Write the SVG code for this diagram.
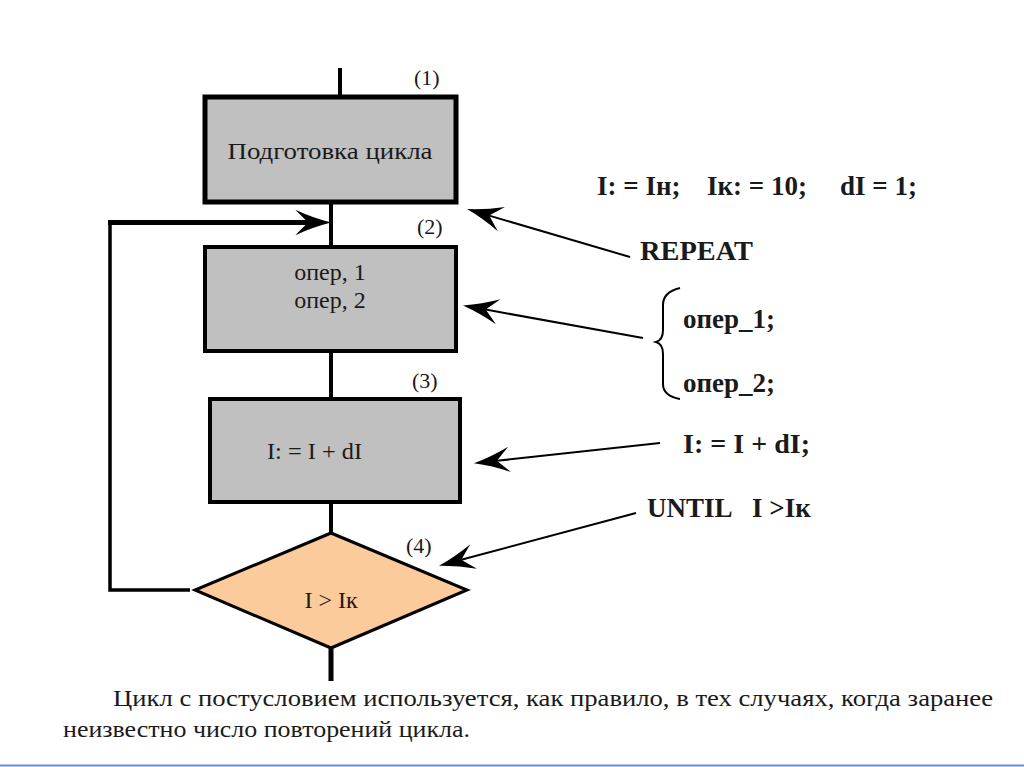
<svg xmlns="http://www.w3.org/2000/svg" width="1024" height="767" viewBox="0 0 1024 767">
<style>
text{font-family:"Liberation Serif","DejaVu Serif","Times New Roman",serif;fill:#1a1a1a}
.box{fill:#c0c0c0;stroke:#000}
.lbl{font-size:24px}
.num{font-size:22px}
.code{font-size:27px;font-weight:bold}
.ln{stroke:#000;fill:none}
.ann{stroke:#000;stroke-width:2;fill:none;marker-end:url(#ah)}
.note{font-size:24px}
</style>
<defs>
<marker id="ah" markerUnits="userSpaceOnUse" markerWidth="40" markerHeight="30" refX="0" refY="0" viewBox="-12 -13 34 26" orient="auto" overflow="visible">
<path d="M20,0 Q4,-4 -11,-11 L0,0 L-11,11 Q4,4 20,0 Z" fill="#000"/>
</marker>
</defs>
<rect width="1024" height="767" fill="#fff"/>
<g id="connectors">
<line class="ln" x1="340" y1="68" x2="340" y2="96" stroke-width="4"/>
<line class="ln" x1="331" y1="204" x2="331" y2="246" stroke-width="4"/>
<line class="ln" x1="331" y1="352" x2="331" y2="398" stroke-width="4"/>
<line class="ln" x1="331" y1="503" x2="331" y2="533" stroke-width="4"/>
<line class="ln" x1="331" y1="648" x2="331" y2="681" stroke-width="5"/>
<path class="ln" d="M190,590 H110 V224" stroke-width="3.5"/>
<line class="ln" x1="108" y1="222.5" x2="308" y2="222.5" stroke-width="5" marker-end="url(#ah)"/>
<line class="ann" x1="630" y1="257" x2="489.2" y2="215.6"/>
<line class="ann" x1="643" y1="338" x2="485.7" y2="309.6"/>
<line class="ann" x1="660" y1="443" x2="496.9" y2="460.8"/>
<line class="ann" x1="636" y1="513" x2="461.3" y2="559.8"/>
<path class="ln" stroke-width="2" d="M680,288 Q663,292 663,305 V330 Q663,340 656,342 Q663,344 663,354 V384 Q663,396 680,399"/>
</g>
<g id="node1">
<rect class="box" x="205" y="97" width="251" height="105" stroke-width="5"/>
<text class="lbl" x="330" y="159" text-anchor="middle" textLength="205" lengthAdjust="spacingAndGlyphs">Подготовка цикла</text>
<text class="num" x="414" y="85">(1)</text>
</g>
<g id="node2">
<rect class="box" x="205" y="247" width="251" height="104" stroke-width="4"/>
<text class="lbl" x="330" y="280" text-anchor="middle">опер, 1</text>
<text class="lbl" x="330" y="308" text-anchor="middle">опер, 2</text>
<text class="num" x="417" y="234">(2)</text>
</g>
<g id="node3">
<rect class="box" x="210" y="399" width="250" height="103" stroke-width="4"/>
<text class="lbl" x="267" y="459" textLength="95" lengthAdjust="spacingAndGlyphs">I: = I + dI</text>
<text class="num" x="412" y="388">(3)</text>
</g>
<g id="node4">
<polygon points="331,533 467,590 331,648 195,590" fill="#fbcb9b" stroke="#000" stroke-width="3"/>
<text class="lbl" x="331" y="608" text-anchor="middle">I &gt; Iк</text>
<text class="num" x="406" y="553">(4)</text>
</g>
<g id="code">
<text class="code" x="597" y="195">I: = Iн;</text>
<text class="code" x="707" y="195">Iк: = 10;</text>
<text class="code" x="840" y="195">dI = 1;</text>
<text class="code" x="640" y="260" textLength="113" lengthAdjust="spacingAndGlyphs">REPEAT</text>
<text class="code" x="683" y="328">опер_1;</text>
<text class="code" x="683" y="392">опер_2;</text>
<text class="code" x="683" y="453" font-size="26" textLength="127" lengthAdjust="spacingAndGlyphs">I: = I + dI;</text>
<text class="code" x="647" y="517">UNTIL</text>
<text class="code" x="752" y="517">I &gt;Iк</text>
</g>
<g id="caption">
<text class="note" x="113" y="706" textLength="880" lengthAdjust="spacingAndGlyphs">Цикл с постусловием используется, как правило, в тех случаях, когда заранее</text>
<text class="note" x="63" y="737" textLength="407" lengthAdjust="spacingAndGlyphs">неизвестно число повторений цикла.</text>
</g>
<line x1="0" y1="765.5" x2="1024" y2="765.5" stroke="#5b8fe6" stroke-width="2"/>
</svg>
